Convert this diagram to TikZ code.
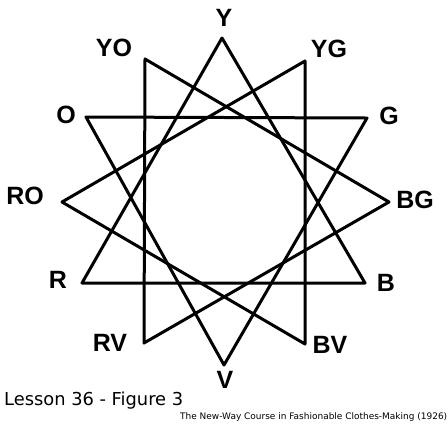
\documentclass[tikz,border=0pt]{standalone}
\usepackage{fontspec}
\setmainfont{Liberation Sans}
\newfontfamily\capfont{DejaVu Sans}
\begin{document}
\begin{tikzpicture}[x=1bp,y=-1bp,
  starline/.style={line width=3bp, line join=round, line cap=round},
  lbl/.style={inner sep=0pt, font=\fontsize{25bp}{30bp}\selectfont\bfseries},
  caption/.style={inner sep=0pt, anchor=base west, font=\capfont}]
\useasboundingbox (0,0) rectangle (448,425);
% star vertices
\coordinate (Y) at (222,38);
\coordinate (YG) at (305,61);
\coordinate (G) at (367,118);
\coordinate (BG) at (389,202);
\coordinate (B) at (365,283);
\coordinate (BV) at (305,344);
\coordinate (V) at (224,365);
\coordinate (RV) at (144,343);
\coordinate (R) at (82,283);
\coordinate (RO) at (62,202);
\coordinate (O) at (86,117);
\coordinate (YO) at (145,59);
% four triangles
\draw[starline] (Y) -- (B) -- (R) -- cycle;
\draw[starline] (O) -- (G) -- (V) -- cycle;
\draw[starline] (YO) -- (BG) -- (RV) -- cycle;
\draw[starline] (YG) -- (BV) -- (RO) -- cycle;
% labels
\node[lbl] (lY) at (224,18) {Y};
\node[lbl] (lYO) at (114,48) {YO};
\node[lbl] (lYG) at (329,49) {YG};
\node[lbl] (lO) at (66,115) {O};
\node[lbl] (lG) at (389,116) {G};
\node[lbl] (lRO) at (25,196) {RO};
\node[lbl] (lBG) at (415,200) {BG};
\node[lbl] (lR) at (58,280) {R};
\node[lbl] (lB) at (386,283) {B};
\node[lbl] (lRV) at (110,343) {RV};
\node[lbl] (lBV) at (330,345) {BV};
\node[lbl] (lV) at (225,380) {V};
% captions
\node[caption] (cap1) at (4,405) {\resizebox{179bp}{!}{Lesson 36 - Figure 3}};
\node[caption] (cap2) at (180,419) {\resizebox{267bp}{!}{The New-Way Course in Fashionable Clothes-Making (1926)}};
\end{tikzpicture}
\end{document}
